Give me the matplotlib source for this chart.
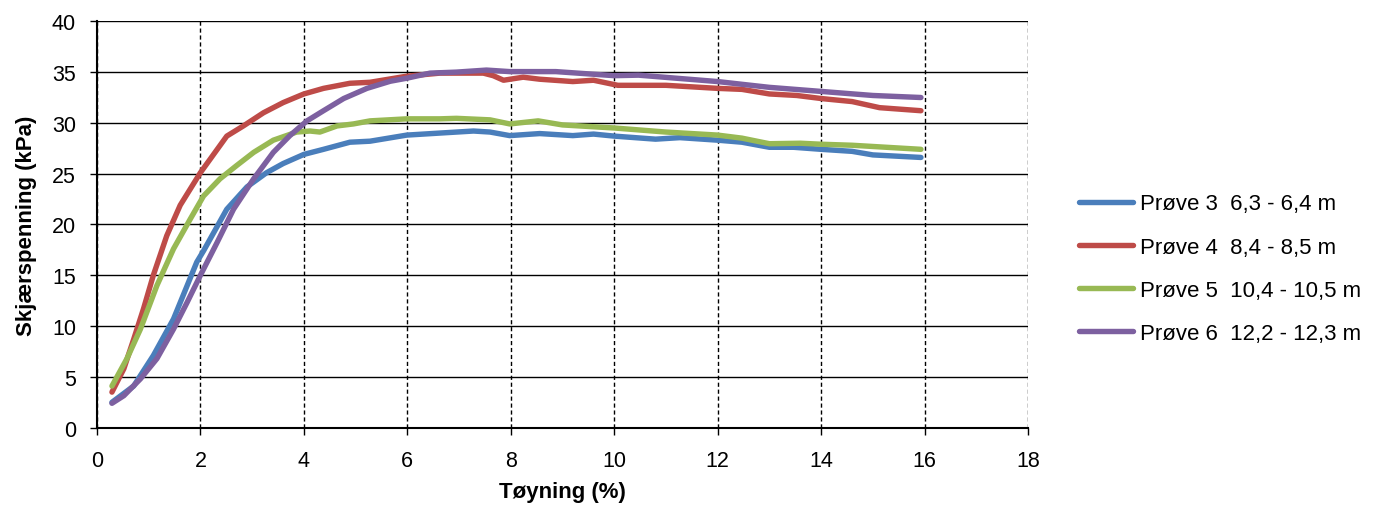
import matplotlib.pyplot as plt
import numpy as np

# ---- data ----
x3 = [0.29, 0.71, 1.09, 1.48, 1.93, 2.06, 2.51, 2.9, 3.28, 3.6, 4.0, 4.38, 4.89, 5.28, 5.99, 6.63, 7.28, 7.6,
      7.98, 8.56, 9.2, 9.6, 10.0, 10.8, 11.27, 12.0, 12.47, 13.0, 13.47, 14.0, 14.6, 15.0, 15.93]
y3 = [2.5, 4.1, 7.1, 10.7, 16.3, 17.4, 21.5, 23.7, 25.1, 26.0, 26.9, 27.4, 28.1, 28.2, 28.8, 29.0, 29.2, 29.1,
      28.75, 28.95, 28.75, 28.9, 28.7, 28.4, 28.55, 28.3, 28.1, 27.6, 27.6, 27.4, 27.2, 26.85, 26.6]

x4 = [0.29, 0.52, 0.71, 0.9, 1.09, 1.35, 1.61, 2.0, 2.51, 2.83, 3.22, 3.6, 4.0, 4.38, 4.89, 5.28, 5.99, 6.63,
      7.47, 7.66, 7.86, 8.24, 8.56, 9.2, 9.6, 10.07, 10.47, 11.0, 12.0, 12.47, 13.0, 13.53, 14.0, 14.6, 15.13, 15.93]
y4 = [3.5, 5.8, 8.7, 11.7, 15.0, 18.9, 21.9, 25.1, 28.7, 29.7, 31.0, 32.0, 32.85, 33.4, 33.9, 34.0, 34.6, 34.9,
      34.9, 34.65, 34.2, 34.5, 34.3, 34.07, 34.2, 33.7, 33.7, 33.7, 33.4, 33.3, 32.85, 32.7, 32.4, 32.1, 31.5, 31.2]

x5 = [0.29, 0.58, 0.84, 1.16, 1.48, 1.8, 2.06, 2.38, 2.7, 3.03, 3.41, 3.86, 4.12, 4.31, 4.64, 4.96, 5.28, 5.99,
      6.63, 6.95, 7.6, 7.98, 8.53, 9.0, 10.0, 11.0, 12.0, 12.47, 13.0, 13.6, 14.0, 14.6, 15.93]
y5 = [4.1, 6.8, 9.7, 14.0, 17.6, 20.5, 22.8, 24.5, 25.8, 27.1, 28.3, 29.1, 29.2, 29.1, 29.7, 29.9, 30.2, 30.4,
      30.4, 30.45, 30.3, 29.9, 30.2, 29.8, 29.5, 29.1, 28.8, 28.5, 27.95, 28.0, 27.9, 27.8, 27.4]

x6 = [0.29, 0.52, 0.84, 1.16, 1.48, 1.74, 2.0, 2.32, 2.64, 3.03, 3.41, 3.73, 4.06, 4.38, 4.77, 5.22, 5.67, 5.99,
      6.44, 6.95, 7.53, 7.98, 8.56, 8.87, 10.0, 10.47, 12.0, 12.47, 13.0, 14.0, 15.0, 15.93]
y6 = [2.4, 3.15, 4.8, 6.8, 9.7, 12.3, 15.0, 18.2, 21.5, 24.5, 27.1, 28.75, 30.2, 31.2, 32.4, 33.4, 34.1, 34.4,
      34.9, 35.0, 35.2, 35.05, 35.05, 35.05, 34.65, 34.7, 34.07, 33.8, 33.5, 33.1, 32.7, 32.5]

labels = ['Prøve 3  6,3 - 6,4 m', 'Prøve 4  8,4 - 8,5 m',
          'Prøve 5  10,4 - 10,5 m', 'Prøve 6  12,2 - 12,3 m']
colors = ['#4A7EBB', '#BE4B48', '#98B954', '#7D60A0']

# ---- style ----
plt.rcParams['font.family'] = ['Liberation Sans', 'DejaVu Sans']
plt.rcParams['font.size'] = 15

fig = plt.figure(figsize=(13.81, 5.06), dpi=100)
ax = fig.add_axes([0.0702, 0.1528, 0.6742, 0.8031])

for xs, ys, c, lab in zip([x3, x4, x5, x6], [y3, y4, y5, y6], colors, labels):
    ax.plot(xs, ys, color=c, lw=3.9, label=lab, solid_capstyle='round', solid_joinstyle='round', zorder=3)

ax.set_xlim(0, 18)
ax.set_ylim(0, 40)
ax.set_xticks(np.arange(0, 19, 2))
ax.set_yticks(np.arange(0, 41, 5))

ax.xaxis.grid(True, color='black', linestyle=(0, (3, 2)), linewidth=1.0)
ax.yaxis.grid(True, color='black', linestyle='-', linewidth=1.0)
ax.set_axisbelow(True)

ax.spines['top'].set_visible(False)
ax.spines['right'].set_visible(False)
ax.spines['left'].set_linewidth(1.5)
ax.spines['bottom'].set_linewidth(1.5)
ax.tick_params(direction='out', length=5, width=1.0, labelsize=15.5)
ax.tick_params(axis='x', pad=11)
ax.tick_params(axis='y', pad=10)

ax.set_xlabel('Tøyning (%)', fontweight='bold', fontsize=16, labelpad=7)
ax.set_ylabel('Skjærspenning (kPa)', fontweight='bold', fontsize=16, labelpad=11)

fig.legend(loc='center left', bbox_to_anchor=(0.781, 0.467), frameon=False,
           handlelength=2.45, handletextpad=0.3, labelspacing=1.0,
           borderpad=0, borderaxespad=0, fontsize=16)

fig.savefig('out.png', dpi=100)
